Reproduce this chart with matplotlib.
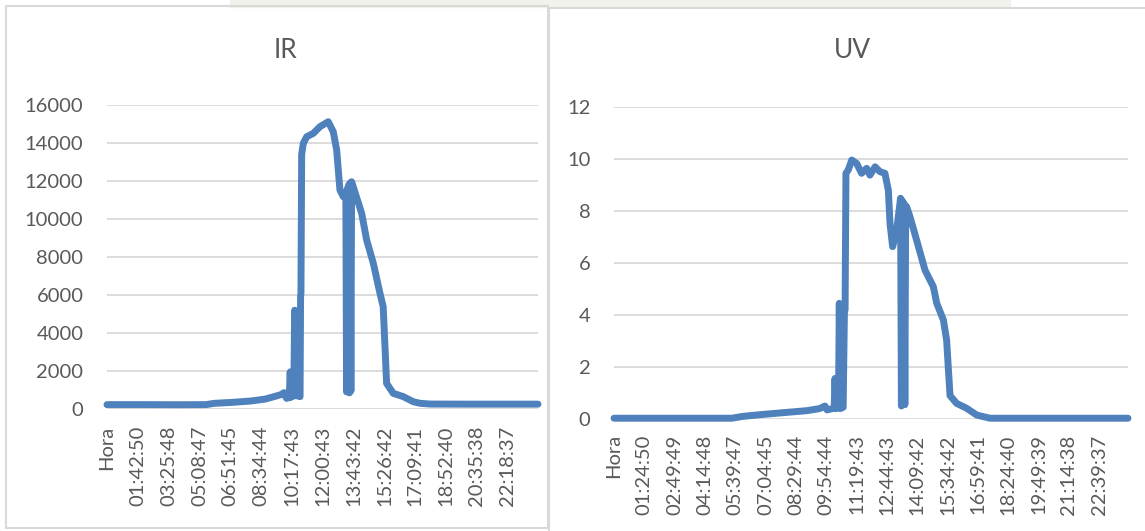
import matplotlib
matplotlib.use("Agg")
import matplotlib.pyplot as plt
from matplotlib.patches import Rectangle

plt.rcParams["font.family"] = ["Lato", "DejaVu Sans"]

# --- Data (hours of the day, sensor value) ---
ir_hours = [0, 2, 4, 5.5, 6.0, 7.0, 8.0, 8.8, 9.3, 9.7, 9.85, 10.0, 10.15, 10.2,
            10.25, 10.4, 10.45, 10.5, 10.6, 10.75, 10.78, 10.8, 10.84, 10.93,
            11.12, 11.49, 11.86, 12.32, 12.6, 12.79, 12.97, 13.16, 13.3, 13.34,
            13.38, 13.42, 13.46, 13.5, 13.54, 13.58, 13.62, 13.71, 14.18, 14.46,
            14.83, 15.2, 15.38, 15.57, 15.94, 16.5, 17.05, 17.43, 18, 20, 22, 24]
ir_values = [230, 230, 225, 230, 300, 350, 420, 520, 650, 760, 860, 560, 600, 1950,
             620, 700, 5200, 700, 700, 650, 5900, 6100, 13400, 13980,
             14330, 14510, 14860, 15120, 14590, 13630, 11530, 11170, 11300, 900,
             11600, 1000, 11790, 850, 11900, 950, 11960, 11700, 10300, 8890,
             7670, 6090, 5380, 1350, 825, 650, 385, 300, 260, 255, 255, 255]

uv_hours = [0, 2, 4, 5.5, 6.0, 7.0, 8.0, 9.0, 9.6, 9.85, 9.95, 10.2, 10.28, 10.32,
            10.36, 10.48, 10.52, 10.56, 10.7, 10.76, 10.79, 10.83, 10.94, 11.1,
            11.33, 11.56, 11.8, 11.95, 12.19, 12.42, 12.65, 12.81, 12.89, 13.01,
            13.2, 13.38, 13.42, 13.46, 13.5, 13.54, 13.58, 13.62, 13.66, 13.82,
            14.13, 14.52, 14.91, 15.07, 15.38, 15.53, 15.69, 16.0, 16.47, 16.94,
            17.56, 20, 24]
uv_values = [0.03, 0.03, 0.03, 0.03, 0.1, 0.18, 0.25, 0.32, 0.4, 0.5, 0.35, 0.4, 0.4, 1.56,
             0.4, 0.45, 4.45, 0.4, 0.45, 4.2, 4.19, 9.45, 9.58, 9.96,
             9.83, 9.45, 9.64, 9.38, 9.7, 9.51, 9.45, 8.8, 7.5, 6.63,
             7.27, 8.49, 0.5, 8.4, 0.6, 8.3, 0.55, 8.2, 8.17, 7.78,
             6.88, 5.73, 5.09, 4.45, 3.81, 3.04, 0.9, 0.6, 0.41, 0.15,
             0.03, 0.03, 0.03]

ir_labels = ["Hora", "01:42:50", "03:25:48", "05:08:47", "06:51:45", "08:34:44",
             "10:17:43", "12:00:43", "13:43:42", "15:26:42", "17:09:41",
             "18:52:40", "20:35:38", "22:18:37"]
uv_labels = ["Hora", "01:24:50", "02:49:49", "04:14:48", "05:39:47", "07:04:45",
             "08:29:44", "09:54:44", "11:19:43", "12:44:43", "14:09:42",
             "15:34:42", "16:59:41", "18:24:40", "19:49:39", "21:14:38", "22:39:37"]

ir_yticks = [0, 2000, 4000, 6000, 8000, 10000, 12000, 14000, 16000]
uv_yticks = [0, 2, 4, 6, 8, 10, 12]

LINE = "#4F81BD"
GRID = "#D9D9D9"
TEXT = "#595959"
W, H = 1145, 531


def to_hours(label):
    if label == "Hora":
        return 0.0
    h, m, s = map(int, label.split(":"))
    return h + m / 60 + s / 3600


def px(x0, y0, x1, y1):
    # pixel box (top-left origin) -> figure fraction rect
    return [x0 / W, 1 - y1 / H, (x1 - x0) / W, (y1 - y0) / H]


fig = plt.figure(figsize=(W / 100, H / 100), dpi=100)
fig.patch.set_facecolor("white")

# faint watermark strip at the very top
fig.patches.append(Rectangle((230 / W, 1 - 7 / H), 780 / W, 7 / H,
                             transform=fig.transFigure, color="#F2F2EC", zorder=0))

# chart frames
fig.patches.append(Rectangle((6 / W, 1 - 528 / H), 542 / W, 522 / H, transform=fig.transFigure,
                             fill=False, edgecolor=GRID, lw=1.5, zorder=1))
fig.patches.append(Rectangle((549 / W, 1 - 540 / H), 620 / W, 532 / H, transform=fig.transFigure,
                             fill=False, edgecolor=GRID, lw=1.5, zorder=1))


def draw(rect, hours, values, labels, yticks, title, title_x, pad_x):
    ax = fig.add_axes(rect)
    ax.plot(hours, values, color=LINE, lw=5, solid_joinstyle="round",
            solid_capstyle="round", zorder=3, clip_on=False)
    ax.set_xlim(0, 24)
    ax.set_ylim(yticks[0], yticks[-1])
    ax.set_yticks(yticks)
    ax.set_yticklabels([str(t) for t in yticks])
    ax.set_xticks([to_hours(l) for l in labels])
    ax.set_xticklabels(labels, rotation=90, va="top", ha="center")
    ax.grid(axis="y", color=GRID, lw=1.3, zorder=0)
    for s in ax.spines.values():
        s.set_visible(False)
    ax.tick_params(axis="both", length=0, colors=TEXT, labelsize=14.5)
    ax.tick_params(axis="y", pad=17)
    ax.tick_params(axis="x", pad=pad_x)
    fig.text(title_x / W, 1 - 50 / H, title, ha="center", va="center",
             fontsize=19, color=TEXT)
    return ax


draw(px(107, 105, 538, 409), ir_hours, ir_values, ir_labels, ir_yticks, "IR", 286, 12)
draw(px(614, 107, 1128, 419), uv_hours, uv_values, uv_labels, uv_yticks, "UV", 852, 11)

fig.savefig("out.png", dpi=100)
